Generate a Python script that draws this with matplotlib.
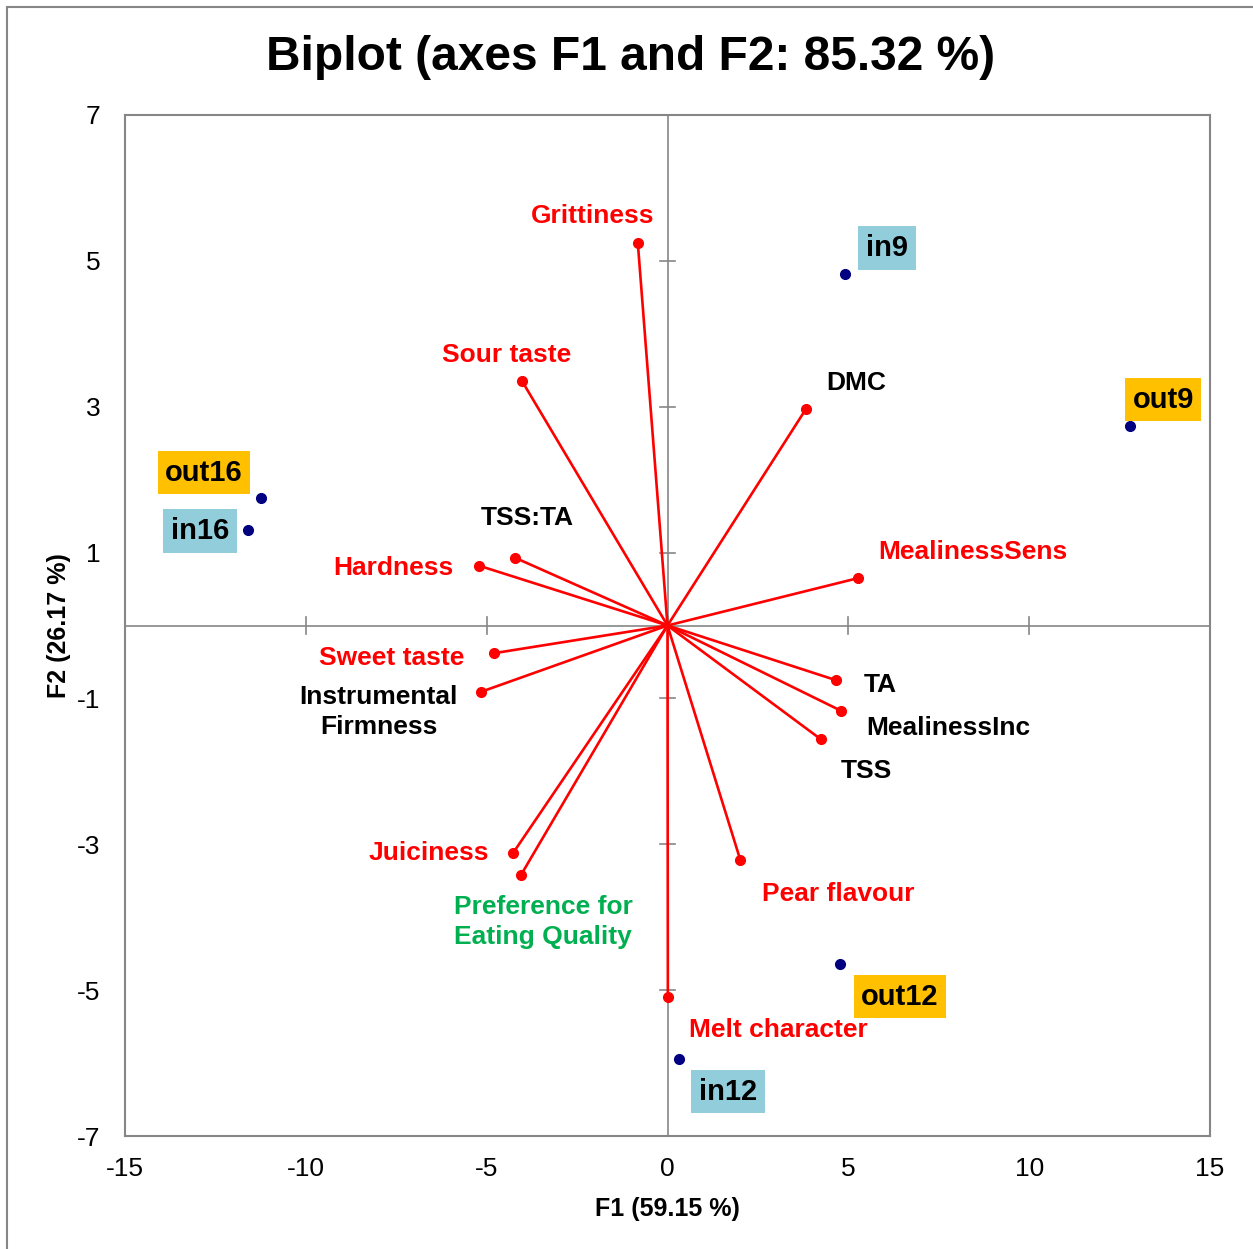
import matplotlib
matplotlib.use('Agg')
import matplotlib.pyplot as plt
from matplotlib.patches import Rectangle

plt.rcParams['font.family'] = ['Liberation Sans', 'DejaVu Sans']
plt.rcParams['axes.unicode_minus'] = False

# variables (loadings scaled to the biplot)
var_names = ['Grittiness', 'Sour taste', 'DMC', 'TSS:TA', 'Hardness', 'MealinessSens',
             'Sweet taste', 'Instrumental\nFirmness', 'TA', 'MealinessInc', 'TSS',
             'Juiciness', 'Preference for\nEating Quality', 'Pear flavour', 'Melt character']
var_f1 = [-0.82, -4.02, 3.83, -4.22, -5.21, 5.27, -4.80, -5.16, 4.66, 4.80, 4.24,
          -4.27, -4.05, 2.01, 0.01]
var_f2 = [5.24, 3.35, 2.97, 0.93, 0.82, 0.65, -0.38, -0.91, -0.75, -1.17, -1.56,
          -3.12, -3.42, -3.21, -5.09]
var_label_colors = ['#FF0000', '#FF0000', 'black', 'black', '#FF0000', '#FF0000',
                    '#FF0000', 'black', 'black', 'black', 'black',
                    '#FF0000', '#00B050', '#FF0000', '#FF0000']
# label offsets (pixels)
var_offsets = [(-45, 27), (-15, 26), (50, 26), (12, 40), (-86, -2), (115, 26),
               (-102, -5), (-102, -20), (44, -5), (107, -17), (46, -32),
               (-84, 0), (22, -47), (98, -34), (111, -33)]

# observations
obs_names = ['in9', 'out9', 'out16', 'in16', 'out12', 'in12']
obs_f1 = [4.91, 12.79, -11.24, -11.60, 4.77, 0.32]
obs_f2 = [4.82, 2.74, 1.75, 1.31, -4.64, -5.94]
obs_box_colors = ['#92CDDC', '#FFC000', '#FFC000', '#92CDDC', '#FFC000', '#92CDDC']
obs_offsets = [(42, 26), (33, 26), (-57, 25), (-48, -1), (60, -33), (49, -33)]

xticks = [-15, -10, -5, 0, 5, 10, 15]
yticks = [-7, -5, -3, -1, 1, 3, 5, 7]

grey = '#868686'

W, H = 1253, 1249
fig = plt.figure(figsize=(W / 100, H / 100), dpi=100)
ax = fig.add_axes([125 / W, 1 - 1136 / H, 1085 / W, 1021 / H])
ax.set_xlim(-15, 15)
ax.set_ylim(-7, 7)
ax.set_xticks(xticks)
ax.set_yticks(yticks)
ax.tick_params(length=0, labelsize=19)
ax.tick_params(axis='x', pad=15)
ax.tick_params(axis='y', pad=17.5)
for s in ax.spines.values():
    s.set_color(grey)
    s.set_linewidth(1.5)

# axes through the origin, with cross ticks
ax.axhline(0, color=grey, lw=1.2, zorder=1)
ax.axvline(0, color=grey, lw=1.2, zorder=1)
for t in xticks:
    ax.plot([t, t], [-0.11, 0.11], color=grey, lw=1.2, zorder=1)
for t in yticks:
    ax.plot([-0.22, 0.22], [t, t], color=grey, lw=1.2, zorder=1)

# variable vectors
for name, x, y, c, off in zip(var_names, var_f1, var_f2, var_label_colors, var_offsets):
    ax.plot([0, x], [0, y], color='#FF0000', lw=1.9, zorder=2)
    ax.plot(x, y, 'o', ms=7, color='#FF0000', zorder=3)
    ax.annotate(name, (x, y), xytext=off, textcoords='offset pixels',
                ha='center', va='center', fontsize=19, fontweight='bold',
                color=c, linespacing=1.32)

# observations
ax.plot(obs_f1, obs_f2, 'o', ms=7, color='#000080', linestyle='none', zorder=3)
for name, x, y, c, off in zip(obs_names, obs_f1, obs_f2, obs_box_colors, obs_offsets):
    ax.annotate(name, (x, y), xytext=off, textcoords='offset pixels',
                ha='center', va='center', fontsize=21, fontweight='bold',
                color='black',
                bbox=dict(boxstyle='square,pad=0.26', fc=c, ec='none'))

ax.set_xlabel('F1 (59.15 %)', fontsize=18, fontweight='bold', va='center')
ax.xaxis.set_label_coords(0.5, -0.0715)
ax.set_ylabel('F2 (26.17 %)', fontsize=18, fontweight='bold', va='center')
ax.yaxis.set_label_coords(-0.061, 0.5)

fig.text(631 / W, 1 - 58 / H, 'Biplot (axes F1 and F2: 85.32 %)', ha='center',
         va='center', fontsize=34.5, fontweight='bold')

# outer chart border (cropped at right and bottom)
fig.add_artist(Rectangle((7 / W, -0.1), 2, 1.1 - 7 / H, transform=fig.transFigure,
                         fill=False, edgecolor=grey, lw=1.5))

fig.savefig('out.png', dpi=100)
